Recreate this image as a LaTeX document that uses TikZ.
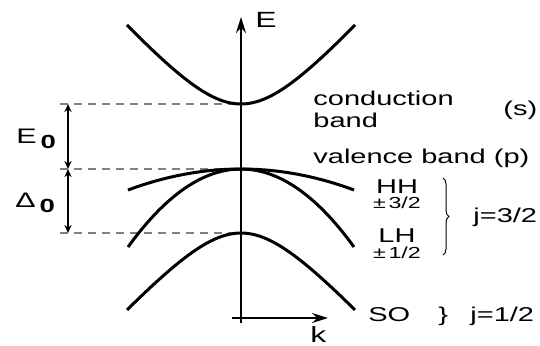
\documentclass[tikz,border=0pt]{standalone}
\usepackage{fontspec}
\setmainfont{Liberation Sans}[FakeStretch=1.45]
\usetikzlibrary{arrows.meta,decorations.pathreplacing}

\begin{document}
\begin{tikzpicture}[x=0.5pt, y=-0.5pt, >={Stealth[length=8pt,width=5pt]},
  band/.style={line width=1.5pt},
  axis/.style={line width=0.9pt, ->},
  level/.style={gray, line width=0.65pt, dash pattern=on 4pt off 3pt},
  gap/.style={line width=0.65pt, {Stealth[length=4pt,width=3.6pt]}-{Stealth[length=4pt,width=3.6pt]}},
  lbl/.style={font=\fontsize{10}{12}\selectfont, inner sep=0pt, anchor=base west},
  spin/.style={font=\fontsize{8}{9}\selectfont, inner sep=0pt, anchor=base}]

\useasboundingbox (0,0) rectangle (540,345);

% Points
\coordinate (O) at (241,318);
\coordinate (Ec) at (241,104);
\coordinate (Ev) at (241,169);
\coordinate (Eso) at (241,233);
\coordinate (Lc) at (60,104);
\coordinate (Lv) at (60,169);
\coordinate (Lso) at (60,233);

% Axes
\draw[axis] (241,323) -- (241,17);
\draw[axis] (232,318) -- (328,318);
\node[lbl, font=\fontsize{11}{12}\selectfont] (E) at (255,27) {E};
\node[lbl, font=\fontsize{11}{12}\selectfont] (k) at (310,342) {k};

% Band edges
\draw[level] (Lc) -- (Ec);
\draw[level] (Lv) -- (Ev);
\draw[level] (Lso) -- (Eso);

% Gaps
\coordinate (Gc) at (68,104);
\coordinate (Gv) at (68,169);
\coordinate (Gso) at (68,233);
\draw[gap] (Gc) -- (Gv);
\draw[gap] (Gv) -- (Gso);
\node[lbl, font=\fontsize{10.5}{12}\selectfont] (E0) at (16,143)
    {E\hspace{2pt}\raisebox{-2.5pt}{\fontsize{9.5}{10}\selectfont\bfseries 0}};
\node[lbl, font=\fontsize{10.5}{12}\selectfont] (D0) at (15,207)
    {Δ\hspace{2pt}\raisebox{-2.5pt}{\fontsize{9.5}{10}\selectfont\bfseries 0}};

% Conduction band
\draw[band] plot[domain=-114:114, samples=61]
    ({241+\x}, {104-68.9*(sqrt(1+(\x/60)^2)-1)});

% Heavy and light holes
\draw[band] plot[domain=-113:113, samples=61]
    ({241+\x}, {169+21*(\x/113)^2});
\draw[band] plot[domain=-113:113, samples=61]
    ({241+\x}, {169+78*(\x/113)^2});

% Split-off band
\draw[band] plot[domain=-114:114, samples=61]
    ({241+\x}, {233+67.1*(sqrt(1+(\x/60)^2)-1)});

% Labels
\node[lbl] (cb) at (313,105) {conduction};
\node[lbl] (cb2) at (313,127) {band};
\node[lbl] (s) at (503,115) {(s)};
\node[lbl] (vb) at (313,163) {valence band (p)};

\node[lbl, anchor=base] (HH) at (397,193) {HH};
\node[spin] (HHj) at (397,208) {±\,3/2};
\node[lbl, anchor=base] (LH) at (397,242) {LH};
\node[spin] (LHj) at (397,258) {±\,1/2};
\draw[line width=0.5pt, decorate, decoration={brace, amplitude=3pt}]
    (443,178) -- (443,255);
\node[lbl] (j32) at (473,222) {j=3/2};

\node[lbl] (SO) at (368,321) {SO};
\node[lbl] (br) at (438,321) {\}};
\node[lbl] (j12) at (470,321) {j=1/2};

\end{tikzpicture}
\end{document}
